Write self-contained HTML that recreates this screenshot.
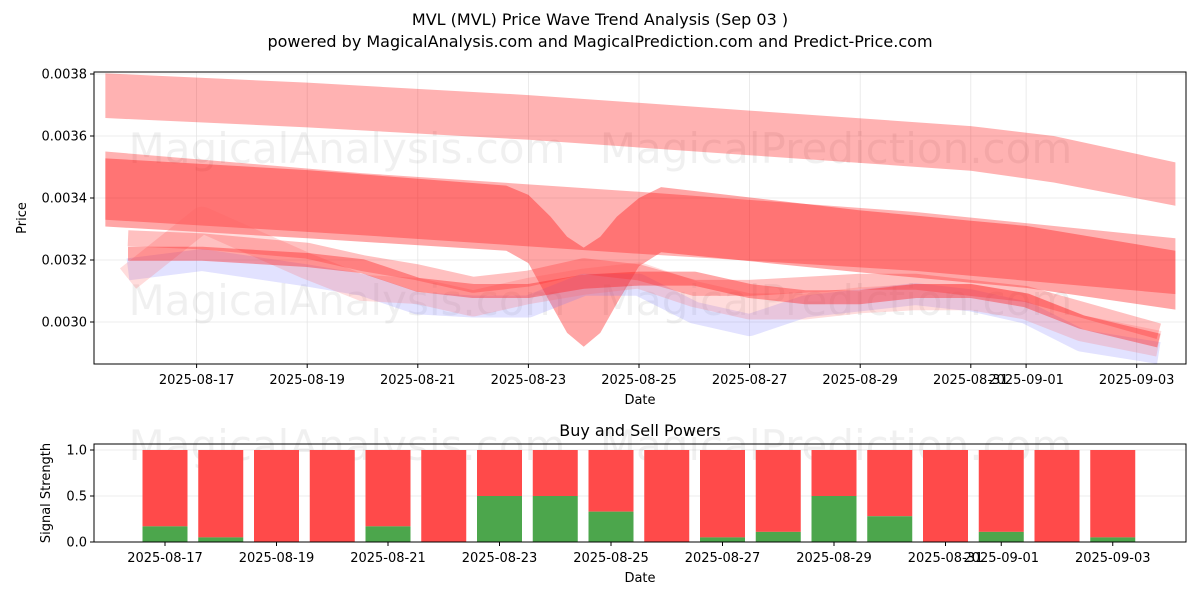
<!DOCTYPE html>
<html><head><meta charset="utf-8"><style>
html,body{margin:0;padding:0;background:#fff;}
svg{display:block;font-family:"DejaVu Sans","Liberation Sans",sans-serif;}
</style></head><body>
<svg id="chart" width="1200" height="600" viewBox="0 0 1200 600">
<text x="600" y="25" text-anchor="middle" font-size="16" fill="#000">MVL (MVL) Price Wave Trend Analysis (Sep 03 )</text>
<text x="600" y="47" text-anchor="middle" font-size="16" fill="#000">powered by MagicalAnalysis.com and MagicalPrediction.com and Predict-Price.com</text>
<g id="top"></g>
<g id="bot"></g>
</svg>
<script>
// ---- data ----
const topTicks = [0.0030, 0.0032, 0.0034, 0.0036, 0.0038];
const topTickLabels = ["0.0030", "0.0032", "0.0034", "0.0036", "0.0038"];
const dateTickDays = [2, 4, 6, 8, 10, 12, 14, 16, 17, 19];
const dateTickLabels = ["2025-08-17","2025-08-19","2025-08-21","2025-08-23","2025-08-25","2025-08-27","2025-08-29","2025-08-31","2025-09-01","2025-09-03"];
const band1Days = [0.35, 4, 8, 12, 16, 17.5, 19.7];
const band1Center = [0.003730, 0.003700, 0.003660, 0.003610, 0.003560, 0.003525, 0.003445];
const band1Half = [0.000072, 0.000072, 0.000072, 0.000072, 0.000072, 0.000075, 0.000070];
const band2Days = [0.35, 4, 7.6, 8.0, 8.4, 8.7, 9.0, 9.3, 9.6, 10.0, 10.4, 14, 17, 19.7];
const band2Center = [0.003418, 0.003380, 0.003335, 0.003300, 0.003200, 0.003120, 0.003080, 0.003120, 0.003200, 0.003290, 0.003330, 0.003260, 0.003210, 0.003135];
const band2Half = [0.000110, 0.000110, 0.000105, 0.000110, 0.000140, 0.000155, 0.000160, 0.000155, 0.000140, 0.000110, 0.000105, 0.000100, 0.000100, 0.000095];
const band3Days = [0.35, 5, 10, 15, 19.7];
const band3Center = [0.003440, 0.003380, 0.003320, 0.003260, 0.003180];
const band3Half = [0.000110, 0.000100, 0.000100, 0.000095, 0.000090];
const waveDays = [0.76,2.1,4,5,6,7,8,9,10,11,12,13,14,15,16,17,18,19.4];
const waveRed = [0.00322,0.00322,0.00320,0.00318,0.00312,0.00310,0.00310,0.00313,0.00314,0.00314,0.00310,0.00308,0.00308,0.00310,0.00310,0.00307,0.00300,0.00294];
const waveBlue = [0.00317,0.00320,0.00315,0.00312,0.00306,0.00305,0.00305,0.00312,0.00312,0.00303,0.00299,0.00305,0.00307,0.00309,0.00307,0.00303,0.00294,0.00290];
const wavePink = [0.00314,0.00333,0.00318,0.00311,0.00310,0.00306,0.00310,0.00313,0.00315,0.00309,0.00305,0.00305,0.00307,0.00308,0.00308,0.00305,0.00298,0.00293];
const waveRed2 = [0.00327,0.00326,0.00323,0.00319,0.00316,0.00312,0.00314,0.00318,0.00316,0.00311,0.00311,0.00312,0.00313,0.00313,0.00311,0.00309,0.00304,0.00297];
const barLabels = ["08-17","08-18","08-19","08-20","08-21","08-22","08-23","08-24","08-25","08-26","08-27","08-28","08-29","08-30","08-31","09-01","09-02","09-03"];
const buyPower = [0.17,0.05,0,0,0.17,0,0.5,0.5,0.33,0,0.05,0.11,0.5,0.28,0,0.11,0,0.05];
const sigTicks = [0, 0.5, 1.0];
const sigTickLabels = ["0.0","0.5","1.0"];

const NS = "http://www.w3.org/2000/svg";
function mk(tag, attrs, parent, text) {
  const e = document.createElementNS(NS, tag);
  for (const k in attrs) e.setAttribute(k, attrs[k]);
  if (text !== undefined) e.textContent = text;
  parent.appendChild(e);
  return e;
}
const T = document.getElementById('top');
const L = 94, R = 1186, TT = 72, TB = 364;
const xT = d => 86 + d * 55.3;
const yT = v => 322 - (v - 0.0030) / 0.0002 * 62;
topTicks.forEach((v, i) => {
  const g = mk('line', {x1:L, x2:R, y1:yT(v), y2:yT(v), stroke:'#e6e6e6', 'stroke-width':0.8}, T);
  
  
  mk('line', {x1:L-4, x2:L, y1:yT(v), y2:yT(v), stroke:'#000'}, T);
  const t = mk('text', {x:L-7, y:yT(v)+4.5, 'text-anchor':'end', 'font-size':13}, T, topTickLabels[i]);
  
  
});
dateTickDays.forEach((d, i) => {
  const g = mk('line', {x1:xT(d), x2:xT(d), y1:TT, y2:TB, stroke:'#e6e6e6', 'stroke-width':0.8}, T);
  
  
  mk('line', {x1:xT(d), x2:xT(d), y1:TB, y2:TB+4, stroke:'#000'}, T);
  const t = mk('text', {x:xT(d), y:TB+20, 'text-anchor':'middle', 'font-size':13}, T, dateTickLabels[i]);
  
  
});
function wm(parent, x, y, s) {
  const t = mk('text', {x:x, y:y, 'font-size':42, fill:'#000', 'fill-opacity':0.06, 'text-anchor':'middle'}, parent, s);
  
  
}
wm(T, 347, 163, 'MagicalAnalysis.com'); wm(T, 836, 163, 'MagicalPrediction.com');
wm(T, 347, 315, 'MagicalAnalysis.com'); wm(T, 836, 315, 'MagicalPrediction.com');
function band(days, c, h, fill, op, name) {
  const up = days.map((d, i) => xT(d) + ',' + yT(c[i] + h[i]));
  const lo = days.map((d, i) => xT(d) + ',' + yT(c[i] - h[i])).reverse();
  const p = mk('polygon', {points: up.concat(lo).join(' '), fill: fill, 'fill-opacity': op, 'stroke-linejoin':'round'}, T);
  
  
}
band(band1Days, band1Center, band1Half, '#ff0000', 0.3, 'upper-band');
band(band3Days, band3Center, band3Half, '#ff0000', 0.3, 'middle-band');
band(band2Days, band2Center, band2Half, '#ff0000', 0.35, 'main-band');
function wave(vals, color, w, op, name) {
  const pts = waveDays.map((d, i) => xT(d) + ',' + yT(vals[i])).join(' ');
  const p = mk('polyline', {points: pts, fill:'none', stroke:color, 'stroke-width':w, 'stroke-opacity':op, 'stroke-linejoin':'round'}, T);
  
  
}
wave(waveBlue, '#6f6fff', 22, 0.2, 'wave-blue');
wave(wavePink, '#ff6060', 26, 0.22, 'wave-pink');
wave(waveRed2, '#ff3030', 16, 0.3, 'wave-red-upper');
wave(waveRed, '#ff2020', 14, 0.4, 'wave-red');
mk('rect', {x:L, y:TT, width:R-L, height:TB-TT, fill:'none', stroke:'#000', 'stroke-width':1}, T);
let t1 = mk('text', {x:640, y:404, 'text-anchor':'middle', 'font-size':13}, T, 'Date');


t1 = mk('text', {x:0, y:0, 'text-anchor':'middle', 'font-size':13, transform:'translate(26,218) rotate(-90)'}, T, 'Price');



const B = document.getElementById('bot');
const BT = 444, BB = 542;
const xB = i => 165 + i * 55.75;
const yB = v => 542 - v * 92;
sigTicks.forEach((v, i) => {
  mk('line', {x1:L, x2:R, y1:yB(v), y2:yB(v), stroke:'#e6e6e6', 'stroke-width':0.8}, B);
  mk('line', {x1:L-4, x2:L, y1:yB(v), y2:yB(v), stroke:'#000'}, B);
  const t = mk('text', {x:L-7, y:yB(v)+4.5, 'text-anchor':'end', 'font-size':13}, B, sigTickLabels[i]);
  
  
});
wm(B, 347, 460, 'MagicalAnalysis.com'); wm(B, 836, 460, 'MagicalPrediction.com');
buyPower.forEach((v, i) => {
  const r = mk('rect', {x:xB(i)-22.5, y:yB(1), width:45, height:yB(v)-yB(1), fill:'#ff4a4a'}, B);
  
  
  const g = mk('rect', {x:xB(i)-22.5, y:yB(v), width:45, height:yB(0)-yB(v), fill:'#4ca64c'}, B);
  
  
});
dateTickDays.forEach((d, i) => {
  const x = xB(d - 2);
  mk('line', {x1:x, x2:x, y1:BB, y2:BB+4, stroke:'#000'}, B);
  const t = mk('text', {x:x, y:BB+20, 'text-anchor':'middle', 'font-size':13}, B, dateTickLabels[i]);
  
  
});
mk('rect', {x:L, y:BT, width:R-L, height:BB-BT, fill:'none', stroke:'#000', 'stroke-width':1}, B);
t1 = mk('text', {x:640, y:436, 'text-anchor':'middle', 'font-size':16}, B, 'Buy and Sell Powers');


t1 = mk('text', {x:640, y:582, 'text-anchor':'middle', 'font-size':13}, B, 'Date');


t1 = mk('text', {x:0, y:0, 'text-anchor':'middle', 'font-size':13, transform:'translate(50,493) rotate(-90)'}, B, 'Signal Strength');


</script>
</body></html>
